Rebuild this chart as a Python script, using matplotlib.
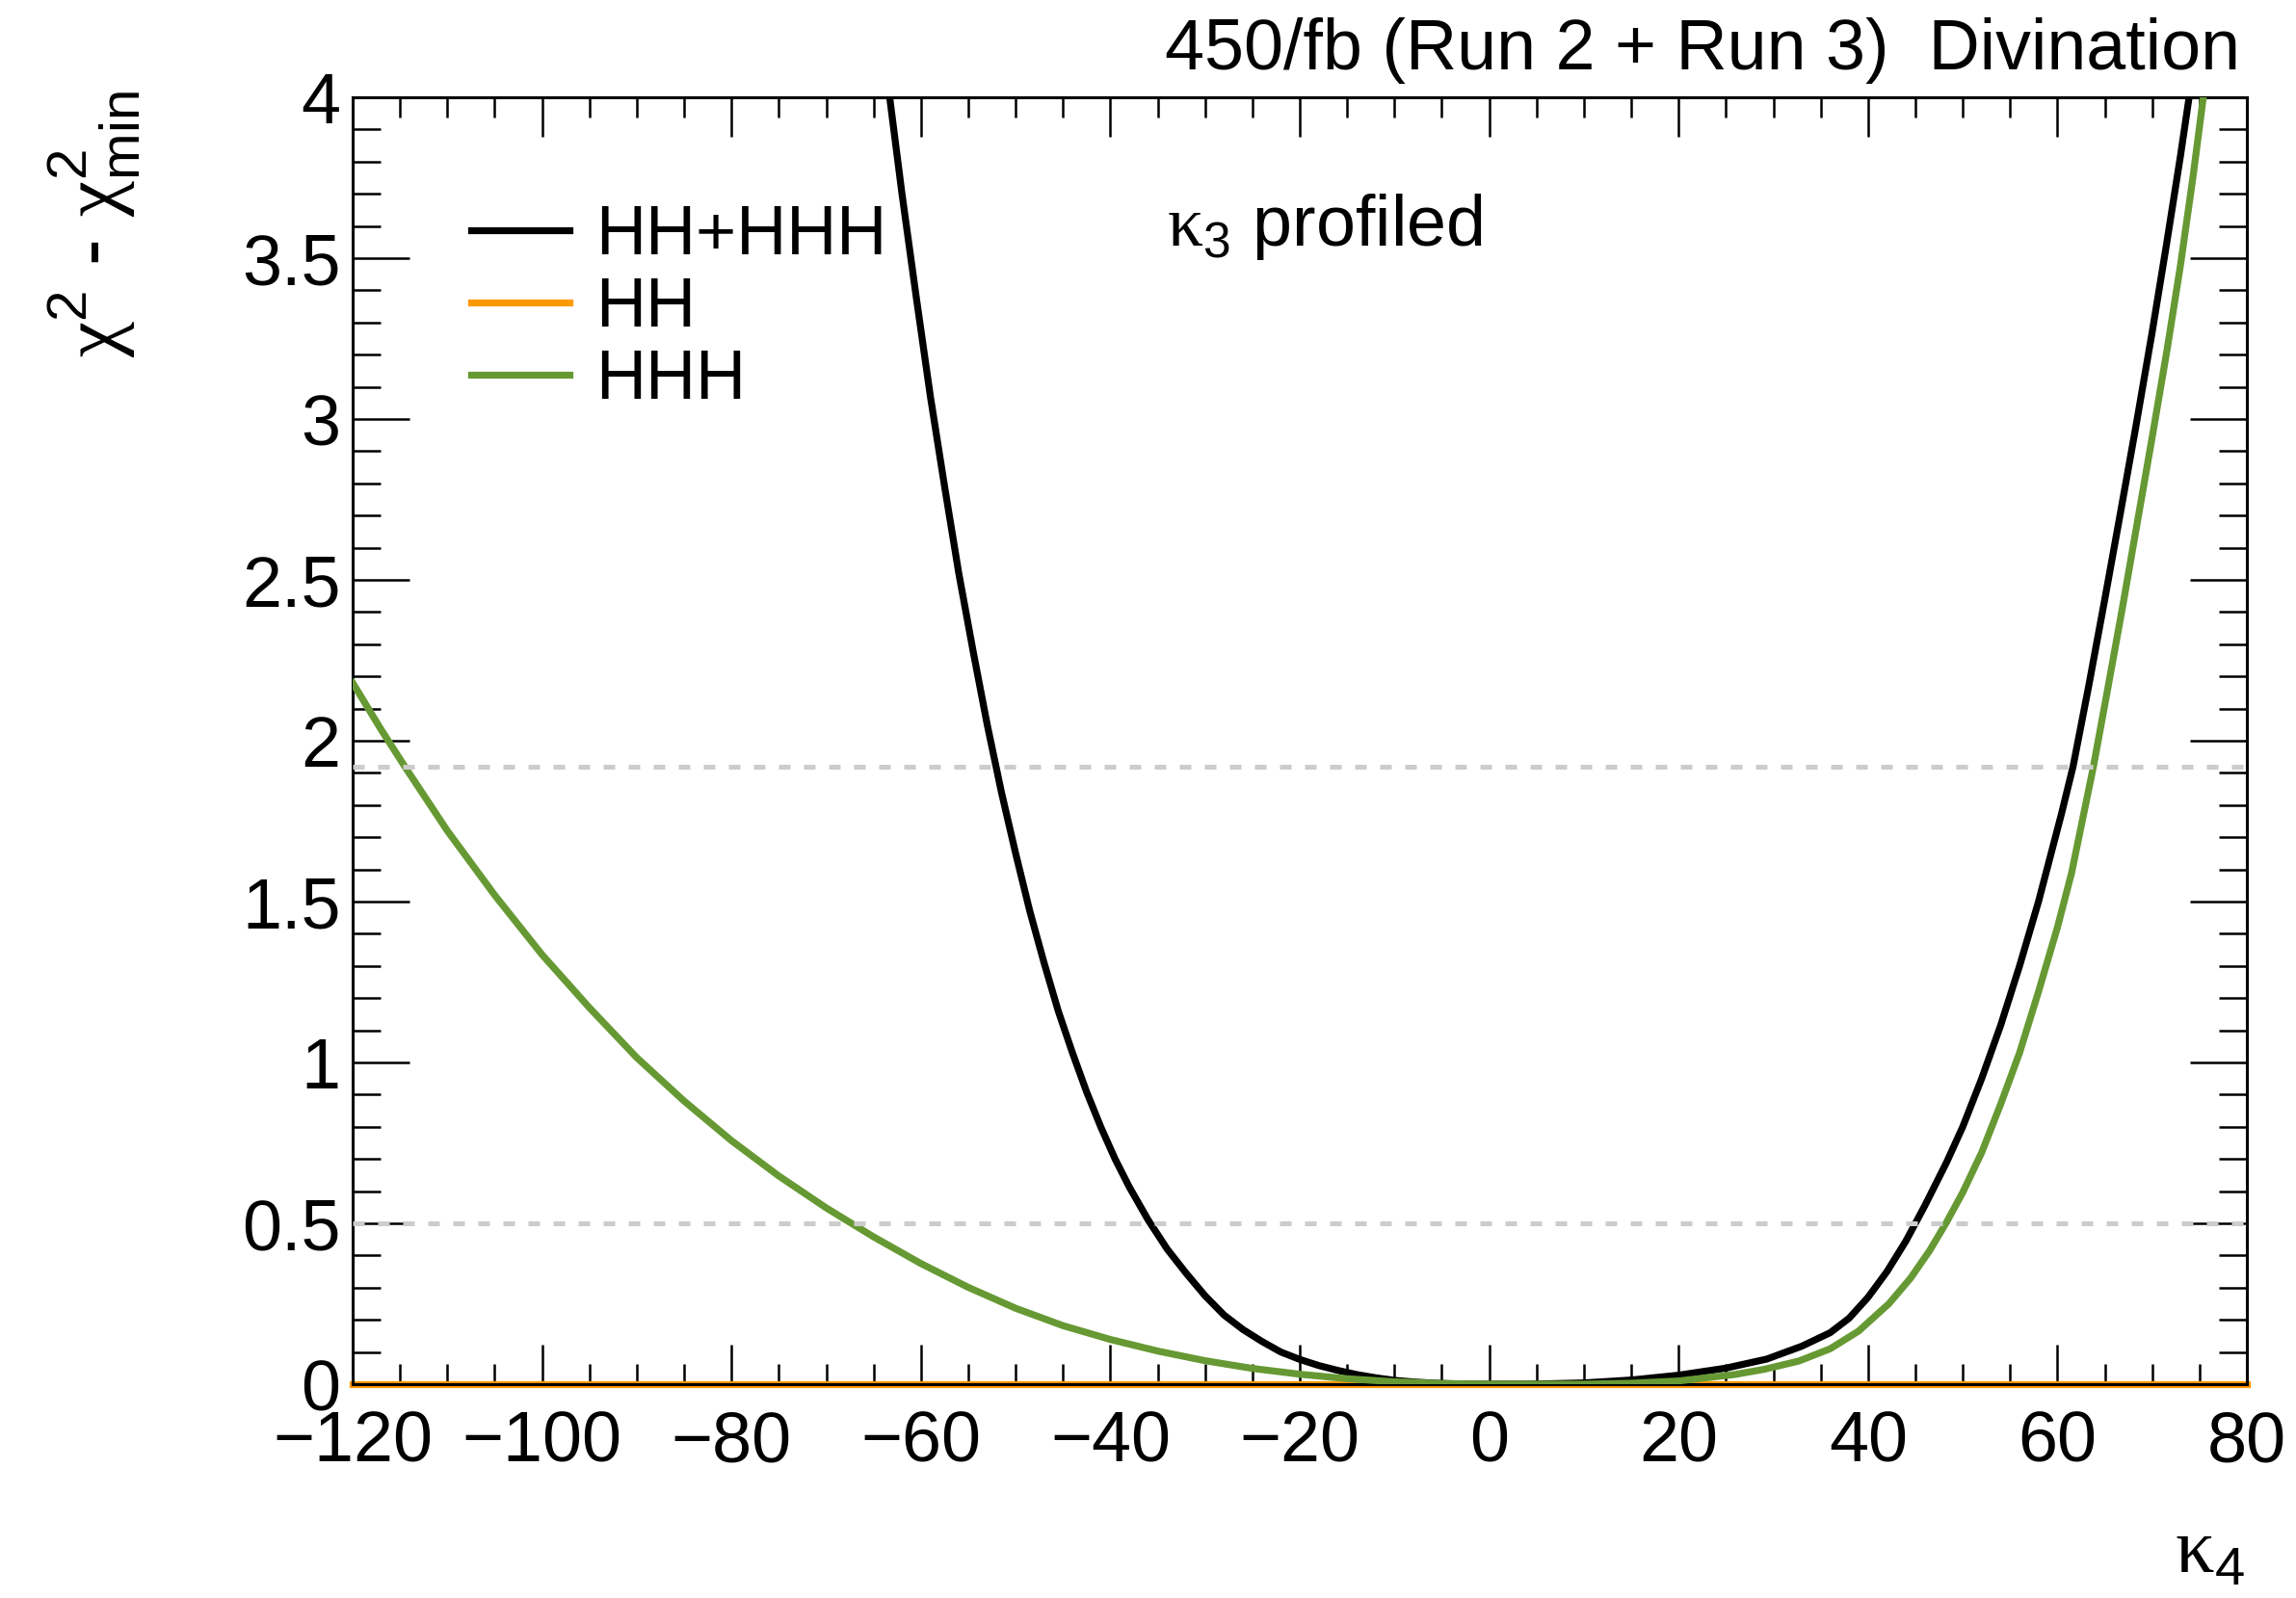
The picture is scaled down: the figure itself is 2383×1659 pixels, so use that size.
import matplotlib
matplotlib.use('Agg')
import matplotlib.pyplot as plt
from matplotlib.ticker import MultipleLocator, FuncFormatter

# kappa_4 scan, delta chi2 per channel (kappa_3 profiled)
hhh_k4 = [-120, -117, -114.5, -110, -105, -100, -95, -90, -85, -80, -75, -70,
          -65, -60, -55, -50, -45, -40, -35, -30, -25, -20, -15, -10, -5, 0,
          5, 10, 15, 20, 25.9, 29, 32.7, 36, 39, 42.2, 44.5, 46.5, 48.3, 50,
          52, 54, 56, 58, 60, 61.5, 63.8, 65.3, 66.9, 68.5, 70.1, 71.6, 73,
          74.3, 75.4]
hhh_chi2 = [2.18, 2.035, 1.92, 1.72, 1.52, 1.335, 1.17, 1.015, 0.88, 0.757,
            0.647, 0.548, 0.458, 0.375, 0.301, 0.236, 0.182, 0.139, 0.103,
            0.073, 0.049, 0.031, 0.017, 0.0075, 0.002, 0.0, 0.0, 0.0, 0.003,
            0.01, 0.03, 0.046, 0.072, 0.11, 0.165, 0.25, 0.33, 0.415, 0.504,
            0.596, 0.72, 0.87, 1.03, 1.22, 1.42, 1.59, 1.92, 2.16, 2.42, 2.69,
            2.96, 3.22, 3.48, 3.75, 4.0]

comb_k4 = [-63.3, -62, -60.5, -59, -57.5, -56, -54.5, -53, -51.5, -50, -48.5,
           -47, -45.5, -44, -42.5, -41, -39.5, -38, -36, -34, -32, -30, -28,
           -26, -24, -22, -20, -18, -16, -14, -12, -10, -8, -6, -4, -2, 0, 5,
           10, 15, 20, 25, 29.3, 33, 36, 38, 40, 42, 44, 46, 48.3, 50, 52, 54,
           56, 58, 60.4, 61.65, 63.3, 65, 66.6, 68.3, 70, 71.5, 73, 73.9]
comb_chi2 = [4.0, 3.70, 3.38, 3.07, 2.79, 2.52, 2.28, 2.05, 1.84, 1.65, 1.47,
             1.31, 1.16, 1.03, 0.908, 0.799, 0.70, 0.613, 0.51, 0.42, 0.345,
             0.275, 0.215, 0.17, 0.133, 0.10, 0.077, 0.058, 0.043, 0.03, 0.02,
             0.012, 0.007, 0.0035, 0.0015, 0.0005, 0.0, 0.0005, 0.004, 0.013,
             0.028, 0.05, 0.078, 0.118, 0.16, 0.205, 0.27, 0.35, 0.445, 0.555,
             0.69, 0.80, 0.95, 1.115, 1.30, 1.50, 1.77, 1.92, 2.17, 2.44, 2.70,
             2.98, 3.27, 3.54, 3.82, 4.0]

hh_k4 = [-120, -80, -40, 0, 40, 80]
hh_chi2 = [0, 0, 0, 0, 0, 0]

ref_levels = [0.5, 1.92]

plt.rcParams['font.family'] = ['Liberation Sans', 'DejaVu Sans']
plt.rcParams['mathtext.fontset'] = 'custom'
plt.rcParams['mathtext.rm'] = 'Liberation Serif'
plt.rcParams['mathtext.sf'] = 'Liberation Sans'
plt.rcParams['font.size'] = 53

fig = plt.figure(figsize=(23.83, 16.59), dpi=100)
ax = fig.add_axes([0.1536, 0.1338, 0.8250, 0.8053])

lw = 5.2
ax.plot(comb_k4, comb_chi2, color='black', lw=lw, label='HH+HHH', zorder=3,
        solid_joinstyle='round')
ax.plot(hh_k4, hh_chi2, color='#ff9900', lw=lw, label='HH', zorder=2,
        clip_on=False)
ax.plot(hhh_k4, hhh_chi2, color='#669933', lw=lw, label='HHH', zorder=3,
        solid_joinstyle='round')

for lev in ref_levels:
    ax.axhline(lev, color='#cccccc', lw=3.6, dashes=(2.4, 2.8), zorder=4)

ax.set_xlim(-120, 80)
ax.set_ylim(0, 4)

ax.xaxis.set_major_locator(MultipleLocator(20))
ax.xaxis.set_minor_locator(MultipleLocator(5))
ax.yaxis.set_major_locator(MultipleLocator(0.5))
ax.yaxis.set_minor_locator(MultipleLocator(0.1))
fmt = FuncFormatter(lambda v, _: f'{v:g}'.replace('-', '\u2212'))
ax.xaxis.set_major_formatter(fmt)
ax.yaxis.set_major_formatter(fmt)

ax.tick_params(which='both', direction='in', top=True, right=True, width=1.8,
               labelsize=53)
ax.tick_params(axis='x', which='major', length=29.5, pad=19)
ax.tick_params(axis='x', which='minor', length=15)
ax.tick_params(axis='y', which='major', length=42.5, pad=9)
ax.tick_params(axis='y', which='minor', length=21)
for sp in ax.spines.values():
    sp.set_linewidth(2.2)

ax.legend(loc='upper left', bbox_to_anchor=(0.0626, 0.917), frameon=False,
          borderpad=0, borderaxespad=0, handlelength=1.41, handletextpad=0.37,
          labelspacing=0.11, fontsize=52)

fig.text(0.9757, 0.9566, '450/fb (Run 2 + Run 3)  Divination', ha='right',
         va='baseline')
fig.text(0.5082, 0.8463, r'$\mathrm{\kappa}_{\mathsf{3}}$ profiled',
         ha='left', va='baseline')
fig.text(0.041, 0.943,
         r'$\mathrm{\chi}^{\mathsf{2}}$ - $\mathrm{\chi}^{\mathsf{2}}_{\mathsf{min}}$',
         rotation=90, ha='center', va='top', fontsize=60)
fig.text(0.9778, 0.0157, r'$\mathrm{\kappa}_{\mathsf{4}}$', ha='right',
         va='baseline', fontsize=58)

fig.savefig('out.png', dpi=100)
